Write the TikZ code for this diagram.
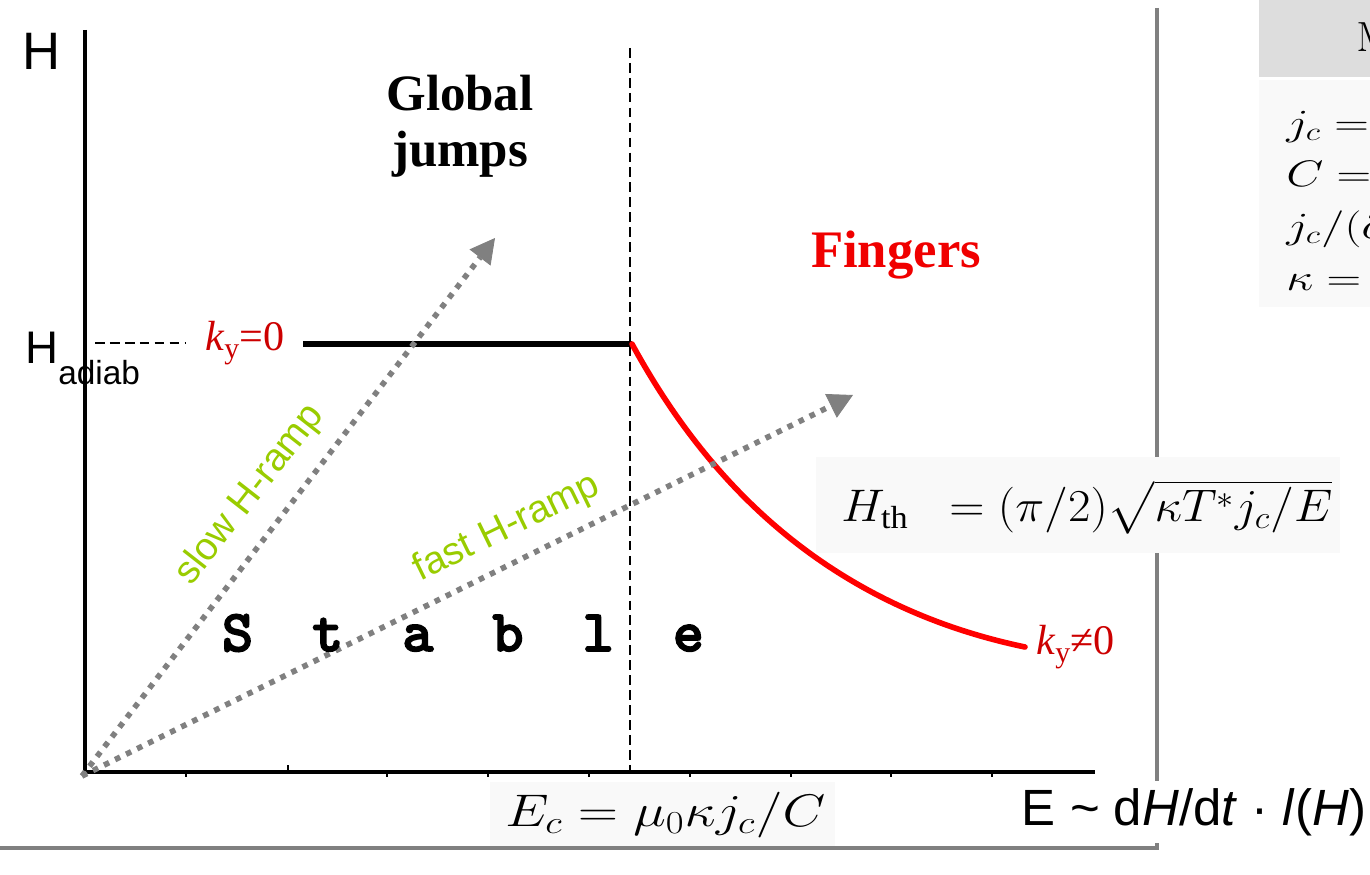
\RequirePackage{fix-cm}
\documentclass[tikz,border=0pt]{standalone}
\usepackage{amsmath}
\usepackage[no-math]{fontspec}
\setmainfont{Liberation Serif}
\setsansfont{Liberation Sans}
\newfontfamily\stabfont{lmmono10-regular}[Extension=.otf, FakeBold=4]
\usetikzlibrary{arrows.meta}
\definecolor{rampgreen}{RGB}{153,204,0}
\definecolor{kred}{RGB}{204,0,0}
\definecolor{fingred}{RGB}{240,0,0}
\definecolor{framegray}{RGB}{128,128,128}
\definecolor{dotgray}{RGB}{128,128,128}
\definecolor{headgray}{RGB}{221,221,221}
\definecolor{boxbg}{RGB}{249,249,249}
\newcommand{\fs}[1]{\fontsize{#1}{#1}\selectfont}
\begin{document}
\begin{tikzpicture}[x=0.02cm,y=-0.02cm,
  axisline/.style={line width=2pt},
  guide/.style={line width=0.9pt, dash pattern=on 5.5pt off 3pt},
  rampline/.style={draw=dotgray, line width=3.2pt, dash pattern=on 3.2pt off 3.8pt,
     -{Triangle[length=14pt,width=15pt,line width=0.5pt]}},
  framelin/.style={draw=framegray, line width=2.3pt},
  ramplabel/.style={text=rampgreen, font=\sffamily\fs{22}},
  klabel/.style={text=kred, font=\rmfamily\fs{24}, inner sep=1pt},
  titlelabel/.style={font=\rmfamily\bfseries\fontsize{29}{32}\selectfont, align=center}]
\useasboundingbox (0,0) rectangle (1370,875);
\clip (0,0) rectangle (1370,875);

% frame lines
\coordinate (ftop) at (1157,8);
\coordinate (fcorner) at (1157,848);
\coordinate (fleft) at (0,848);
\draw[framelin] (ftop) -- (fcorner) -- (fleft);

% top-right panels
\fill[headgray] (1259,0) rectangle (1375,77);
\fill[boxbg] (1259,80) rectangle (1375,307);
\node[anchor=base west, inner sep=0pt] (mhead) at (1356,52) {\fs{24}$\mathrm{M}$};
\node[anchor=base west, inner sep=0pt] (p1) at (1286,135) {\fs{21}\scalebox{1.3}[1]{$j_c =$}};
\node[anchor=base west, inner sep=0pt] (p2) at (1286,187) {\fs{21}\scalebox{1.3}[1]{$C =$}};
\node[anchor=base west, inner sep=0pt] (p3) at (1286,238) {\fs{21}\scalebox{1.3}[1]{$j_c/(\partial$}};
\node[anchor=base west, inner sep=0pt] (p4) at (1286,290) {\fs{21}\scalebox{1.3}[1]{$\kappa = 1$}};

% axes
\coordinate (ytop) at (85,30);
\coordinate (O) at (85,772);
\coordinate (xend) at (1095,772);
\draw[axisline] (ytop) -- (O) -- (xend);
\foreach \x in {186,387,488,589,690,791,891,992}
  \draw[line width=0.8pt] (\x,772) -- (\x,777);
\draw[line width=0.8pt] (288,772) -- (288,765);

% dashed guides
\coordinate (vtop) at (630,48);
\coordinate (vbot) at (630,772);
\draw[guide] (vtop) -- (vbot);
\coordinate (hl) at (95,343);
\coordinate (hr) at (185,343);
\draw[guide] (hl) -- (hr);

% adiabatic line and threshold curve
\coordinate (adl) at (303,344);
\coordinate (crit) at (632,344);
\coordinate (cend) at (1025,647);
\draw[line width=3.2pt] (adl) -- (crit);
\draw[red, line width=3.2pt, line cap=round] (crit) .. controls (690,450) and (800,600) .. (cend);

% ramps
\coordinate (rs) at (82,776);
\coordinate (slowtip) at (495,238);
\coordinate (fasttip) at (853,395);
\draw[rampline] (rs) -- (slowtip);
\draw[rampline] (rs) -- (fasttip);
\node[ramplabel, rotate=52] (slowlab) at (250,495) {slow H-ramp};
\node[ramplabel, rotate=26] (fastlab) at (507,528) {fast H-ramp};

% labels
\node[font=\sffamily\fs{30}, inner sep=0pt] (Hlab) at (42,51) {H};
\node[anchor=base west, inner sep=0pt, font=\sffamily\fs{26}] (Hadiab) at (25,363)
  {H\raisebox{-12pt}{\fs{19}adiab}};
\node[klabel, anchor=west] (k0) at (203,343) {\textit{k}\raisebox{-5pt}{\fs{17}y}=0};
\node[klabel, anchor=west] (k1) at (1034,647) {\textit{k}\raisebox{-5pt}{\fs{17}y}≠0};
\node[titlelabel] (glob) at (460,126) {Global\\jumps};
\node[font=\rmfamily\bfseries\fs{30}, text=fingred] (fing) at (896,255) {Fingers};
\node[font=\stabfont\fs{33}] (stab) at (463,633)
  {S\hspace{34pt}t\hspace{34pt}a\hspace{34pt}b\hspace{34pt}l\hspace{34pt}e};

% equations
\fill[boxbg] (816,457) rectangle (1340,553);
\node[anchor=west, inner sep=0pt] (hth) at (841,507)
  {\fs{26}\scalebox{1.07}[1]{$H_{\text{th}}\;\;= (\pi/2)\sqrt{\kappa T^* j_c/E}$}};
\fill[boxbg] (490,782) rectangle (835,846);
\node[anchor=west, inner sep=0pt] (ec) at (505,815)
  {\fs{26}\scalebox{1.21}[1]{$E_c = \mu_0\kappa j_c/C$}};
\node[fill=white, inner sep=4pt, font=\sffamily\fs{29}] (elab) at (1194,812)
  {E \textasciitilde{} d\textit{H}/d\textit{t} · \textit{l}(\textit{H})};
\end{tikzpicture}
\end{document}
